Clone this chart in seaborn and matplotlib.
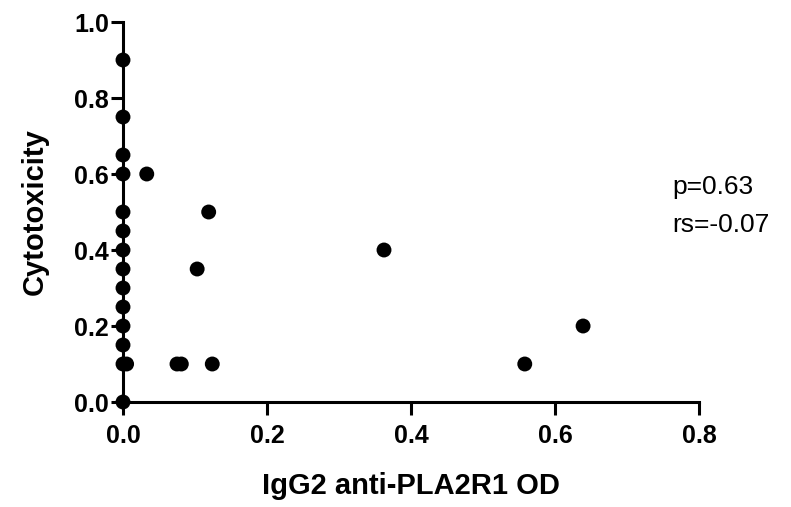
import numpy as np
import pandas as pd
import matplotlib
matplotlib.use("Agg")
import matplotlib.pyplot as plt
import seaborn as sns

# Valores
igg2_od = [0.0, 0.0, 0.0, 0.0, 0.0, 0.0, 0.0, 0.0, 0.0, 0.0, 0.0, 0.0, 0.0, 0.005, 0.0,
           0.033, 0.119, 0.103, 0.075, 0.081, 0.124, 0.3625, 0.558, 0.639]
cytotox = [0.9, 0.75, 0.65, 0.6, 0.5, 0.45, 0.4, 0.35, 0.3, 0.25, 0.2, 0.15, 0.1, 0.1, 0.0,
           0.6, 0.5, 0.35, 0.1, 0.1, 0.1, 0.4, 0.1, 0.2]
xticks = [0.0, 0.2, 0.4, 0.6, 0.8]
yticks = [0.0, 0.2, 0.4, 0.6, 0.8, 1.0]
stats_txt = "p=0.63\nrs=-0.07"

df = pd.DataFrame({"od": igg2_od, "cyt": cytotox})

sns.set_theme(style="ticks")
plt.rcParams["font.family"] = ["Liberation Sans", "DejaVu Sans"]
plt.rcParams["text.color"] = "black"
plt.rcParams["xtick.color"] = "black"
plt.rcParams["ytick.color"] = "black"
plt.rcParams["axes.labelcolor"] = "black"

fig = plt.figure(figsize=(7.91, 5.07), dpi=100)
ax = fig.add_axes([0.1555, 0.2071, 0.7282, 0.7495])

sns.scatterplot(data=df, x="od", y="cyt", ax=ax, color="black", s=115,
                edgecolor="none", clip_on=False, zorder=5)

ax.set_xlim(0, 0.8)
ax.set_ylim(0, 1.0)
ax.set_xticks(xticks)
ax.set_yticks(yticks)
ax.set_xticklabels([f"{v:.1f}" for v in xticks], fontweight="bold", fontsize=18)
ax.set_yticklabels([f"{v:.1f}" for v in yticks], fontweight="bold", fontsize=18)
ax.tick_params(width=2.2, length=9, color="black")
ax.tick_params(axis="x", pad=7)
ax.tick_params(axis="y", pad=1)

for s in ["top", "right"]:
    ax.spines[s].set_visible(False)
for s in ["left", "bottom"]:
    ax.spines[s].set_linewidth(2.2)
    ax.spines[s].set_color("black")

ax.set_xlabel("IgG2 anti-PLA2R1 OD", fontweight="bold", fontsize=21, labelpad=17)
ax.set_ylabel("Cytotoxicity", fontweight="bold", fontsize=21, labelpad=18)

fig.text(672 / 791, 1 - 206 / 507, stats_txt, fontsize=19, ha="left", va="center",
         linespacing=1.75)

fig.savefig("out.png", dpi=100)
